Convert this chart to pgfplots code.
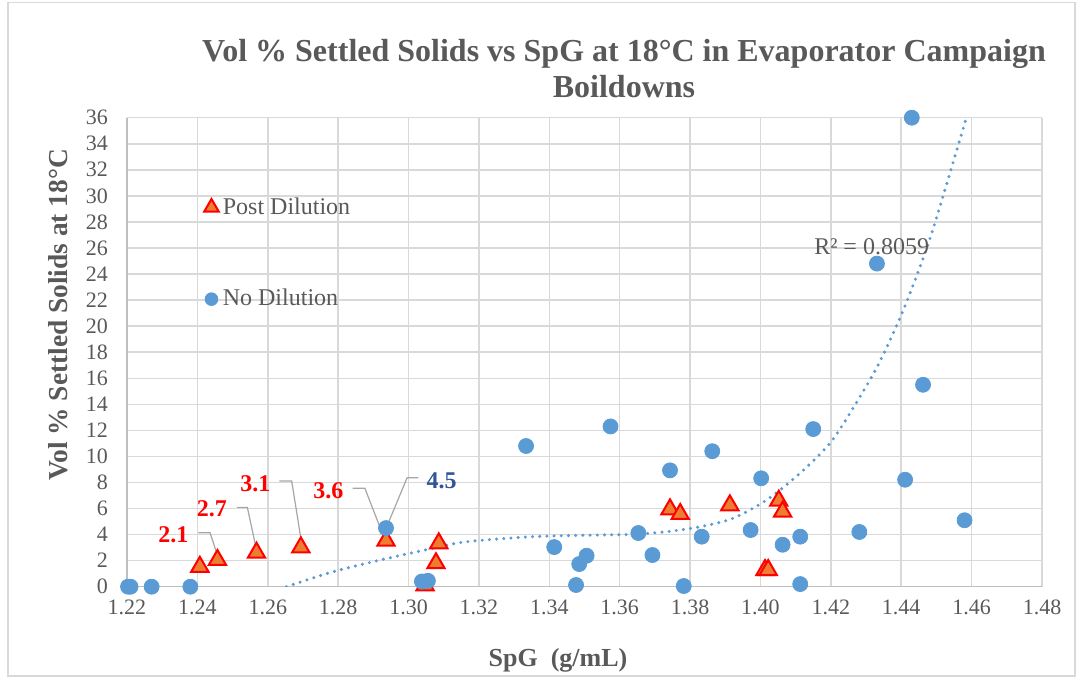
\documentclass[border=0pt]{standalone}
\usepackage{fontspec}
\setmainfont{Liberation Serif}
\usepackage{pgfplots}
\pgfplotsset{compat=1.18}

\definecolor{nodil}{HTML}{5B9BD5}
\definecolor{postfill}{HTML}{ED7D31}
\definecolor{postedge}{HTML}{FF0000}
\definecolor{gridc}{HTML}{D9D9D9}
\definecolor{axisc}{HTML}{BFBFBF}
\definecolor{textc}{HTML}{595959}
\definecolor{leadc}{HTML}{A6A6A6}
\definecolor{lblblue}{HTML}{2F5597}

\begin{document}
\begin{tikzpicture}
\begin{axis}[
    scale only axis,
    width=457.5pt,
    height=234.5pt,
    xmin=1.22, xmax=1.48,
    ymin=0, ymax=36,
    xtick={1.22,1.24,1.26,1.28,1.30,1.32,1.34,1.36,1.38,1.40,1.42,1.44,1.46,1.48},
    ytick={0,2,4,6,8,10,12,14,16,18,20,22,24,26,28,30,32,34,36},
    xticklabel style={/pgf/number format/fixed, /pgf/number format/fixed zerofill,
        /pgf/number format/precision=2, yshift=-3pt},
    /pgf/number format/assume math mode=true,
    tick label style={font=\fontsize{11}{13}\selectfont, text=textc},
    yticklabel style={xshift=-6pt},
    grid=major,
    major grid style={draw=gridc, line width=0.75pt},
    axis x line*=bottom,
    axis y line*=left,
    axis line style={draw=axisc, line width=0.75pt, -},
    tick style={draw=none},
    legend style={at={(axis cs:1.2418,30.2)}, anchor=north west, draw=none, fill=none,
        font=\fontsize{12}{14}\selectfont, text=textc, row sep=32pt,
        inner sep=0pt},
    legend cell align=left,
    legend image code/.code={\draw[#1, scale=0.85] plot coordinates {(0pt,0pt)};},
]

% Post Dilution
\addplot[only marks, mark=triangle*, mark size=5pt,
    mark options={fill=postfill, draw=postedge, line width=1pt}] coordinates {
    (1.2407,1.53) (1.2457,2.05) (1.2568,2.61) (1.2694,3.02) (1.2936,3.53)
    (1.3047,0.10) (1.3078,1.80) (1.3086,3.33)
    (1.3743,5.94) (1.3772,5.58) (1.3913,6.25)
    (1.4013,1.28) (1.4022,1.28) (1.4052,6.60) (1.4063,5.76)
};
\addlegendentry{Post Dilution}

% No Dilution
\addplot[only marks, mark=*, mark size=3.75pt,
    mark options={fill=nodil, draw=nodil}] coordinates {
    (1.2203,0) (1.2210,0) (1.2270,0) (1.2380,0)
    (1.3038,0.40) (1.3055,0.45) (1.2936,4.50)
    (1.3334,10.8) (1.3414,3.04) (1.3476,0.13) (1.3485,1.74) (1.3506,2.38)
    (1.3574,12.3) (1.3653,4.12) (1.3693,2.43) (1.3743,8.93) (1.3782,0.05)
    (1.3833,3.84) (1.3863,10.4) (1.3972,4.35) (1.4002,8.32) (1.4063,3.22)
    (1.4113,3.84) (1.4113,0.20) (1.4150,12.1) (1.4281,4.20) (1.4331,24.8)
    (1.4411,8.21) (1.4430,36.0) (1.4462,15.5) (1.4580,5.10)
};
\addlegendentry{No Dilution}

% trendline
\addplot[forget plot, nodil, line width=1.7pt, line cap=round,
    dash pattern=on 0pt off 3.6pt, smooth, tension=0.5] coordinates {
    (1.2653,0) (1.2786,1.15) (1.2928,2.10) (1.3070,2.95) (1.3165,3.45)
    (1.3354,3.84) (1.3544,3.97) (1.3638,4.02) (1.3733,4.22) (1.3828,4.60)
    (1.3922,5.25) (1.4017,6.65) (1.4112,8.70) (1.4197,11.0) (1.4263,13.7)
    (1.4334,17.0) (1.4396,20.6) (1.4443,23.8) (1.4491,27.5) (1.4585,36.0)
};

% data labels with leader lines
\draw[leadc, line width=0.6pt] (axis cs:1.2403,4.14) -- (axis cs:1.2436,4.14) -- (axis cs:1.2457,2.43);
\draw[leadc, line width=0.6pt] (axis cs:1.2512,6.09) -- (axis cs:1.2542,6.09) -- (axis cs:1.2566,3.07);
\draw[leadc, line width=0.6pt] (axis cs:1.2633,8.11) -- (axis cs:1.2668,8.11) -- (axis cs:1.2694,3.71);
\draw[leadc, line width=0.6pt] (axis cs:1.2841,7.55) -- (axis cs:1.2876,7.55) -- (axis cs:1.2930,3.79);
\draw[leadc, line width=0.6pt] (axis cs:1.3028,8.37) -- (axis cs:1.2996,8.37) -- (axis cs:1.2939,4.66);
\node[text=postedge, font=\bfseries\fontsize{12}{14}\selectfont] at (axis cs:1.2332,3.99) {2.1};
\node[text=postedge, font=\bfseries\fontsize{12}{14}\selectfont] at (axis cs:1.2441,5.95) {2.7};
\node[text=postedge, font=\bfseries\fontsize{12}{14}\selectfont] at (axis cs:1.2565,7.94) {3.1};
\node[text=postedge, font=\bfseries\fontsize{12}{14}\selectfont] at (axis cs:1.2772,7.40) {3.6};
\node[text=lblblue, font=\bfseries\fontsize{12}{14}\selectfont] at (axis cs:1.3094,8.13) {4.5};

\node[text=textc, font=\fontsize{12}{14}\selectfont] at (axis cs:1.4316,26.07) {R² = 0.8059};
\end{axis}

% title and axis titles
\node[text=textc, font=\bfseries\fontsize{16}{18}\selectfont, align=center]
    at (248.5pt,259.3pt) {Vol \% Settled Solids vs SpG at 18°C in Evaporator Campaign\\Boildowns};
\node[text=textc, font=\bfseries\fontsize{13}{15}\selectfont] at (215.5pt,-36.6pt) {SpG\ \ (g/mL)};
\node[text=textc, font=\bfseries\fontsize{13.7}{15}\selectfont, rotate=90] at (-34.5pt,135.9pt)
    {Vol \% Settled Solids at 18°C};

% chart area border
\draw[gridc, line width=0.75pt] (-59.5pt,-44.6pt) rectangle (474pt,292pt);
\pgfresetboundingbox
\path (-63.5pt,-46.15pt) rectangle (475.5pt,293.35pt);
\end{tikzpicture}
\end{document}
